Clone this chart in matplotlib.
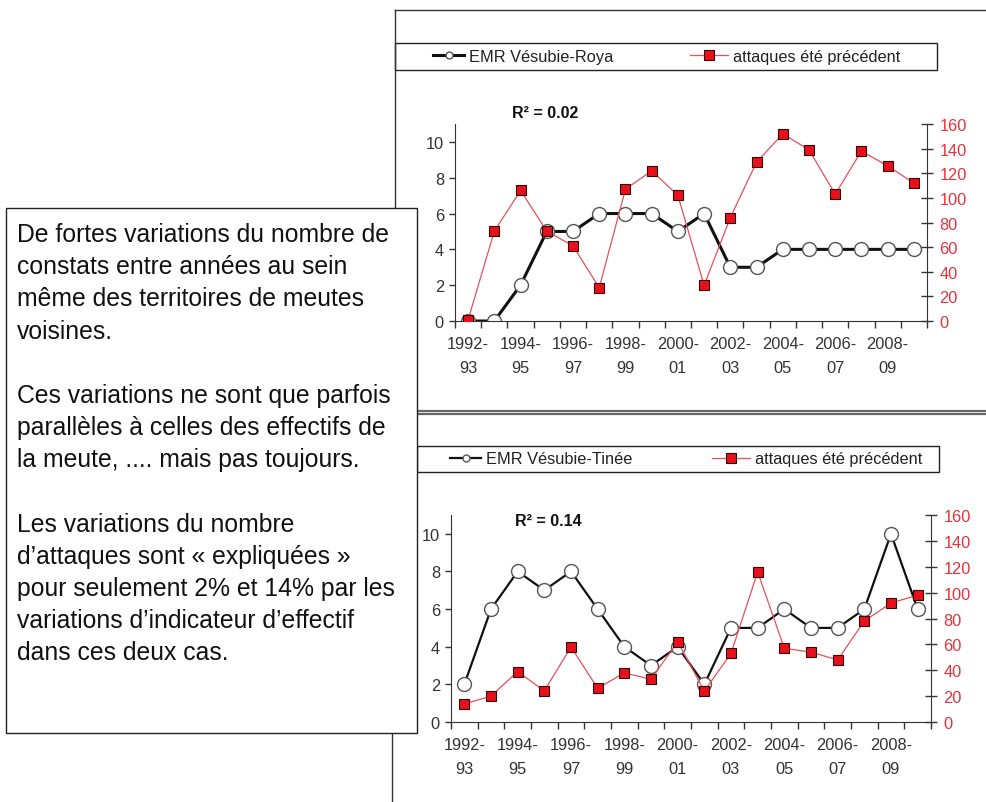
import matplotlib.pyplot as plt
import numpy as np
from matplotlib.lines import Line2D
from matplotlib.patches import Rectangle

plt.rcParams['font.family'] = ['Liberation Sans', 'DejaVu Sans']

# saisons 1992-93 ... 2009-10
n_seasons = 18
tick_labels = ['1992-\n93', '1994-\n95', '1996-\n97', '1998-\n99', '2000-\n01',
               '2002-\n03', '2004-\n05', '2006-\n07', '2008-\n09']

roya_emr = [0, 0, 2, 5, 5, 6, 6, 6, 5, 6, 3, 3, 4, 4, 4, 4, 4, 4]
roya_att = [1, 73, 106, 73, 61, 27, 107, 122, 102, 29, 84, 129, 152, 139, 103, 138, 126, 112]
tinee_emr = [2, 6, 8, 7, 8, 6, 4, 3, 4, 2, 5, 5, 6, 5, 5, 6, 10, 6]
tinee_att = [14, 20, 39, 24, 58, 26, 38, 33, 62, 24, 53, 116, 57, 54, 48, 78, 92, 98]

texte = ("De fortes variations du nombre de\n"
         "constats entre années au sein\n"
         "même des territoires de meutes\n"
         "voisines.\n"
         "\n"
         "Ces variations ne sont que parfois\n"
         "parallèles à celles des effectifs de\n"
         "la meute, .... mais pas toujours.\n"
         "\n"
         "Les variations du nombre\n"
         "d’attaques sont « expliquées »\n"
         "pour seulement 2% et 14% par les\n"
         "variations d’indicateur d’effectif\n"
         "dans ces deux cas.")

W, H = 987, 803
fig = plt.figure(figsize=(W / 100, H / 100), dpi=100)


def fx(px):
    return px / W


def fy(py):
    return 1 - py / H


def hline(x0, x1, y, color='#333333', lw=1.0):
    fig.add_artist(Line2D([fx(x0), fx(x1)], [fy(y), fy(y)], color=color, lw=lw,
                          transform=fig.transFigure))


def vline(x, y0, y1, color='#333333', lw=1.0):
    fig.add_artist(Line2D([fx(x), fx(x)], [fy(y0), fy(y1)], color=color, lw=lw,
                          transform=fig.transFigure))


def panel(left, right, top, bottom, emr, att, r2, r2_xy, lw_black):
    ax = fig.add_axes([fx(left), fy(bottom), fx(right - left), (bottom - top) / H])
    x = np.arange(n_seasons)
    l1, = ax.plot(x, emr, color='#111111', lw=lw_black, marker='o', ms=10,
                  mfc='white', mec='#555555', mew=1.0)
    ax.set_xlim(-0.5, n_seasons - 0.5)
    ax.set_ylim(0, 11)
    ax.set_yticks(range(0, 11, 2))
    ax.set_xticks(range(0, n_seasons, 2))
    ax.set_xticklabels(tick_labels, linespacing=1.7)
    ax.set_xticks(np.arange(-0.5, n_seasons, 1), minor=True)
    ax.tick_params(axis='x', which='major', length=0, pad=11, labelsize=11.8, colors='#333333')
    ax.tick_params(axis='x', which='minor', length=5, width=1, color='#333333')
    ax.tick_params(axis='y', length=4, width=1, pad=4, labelsize=11.8,
                   labelcolor='#333333', color='#333333')
    for s in ['top', 'right']:
        ax.spines[s].set_visible(False)
    for s in ['left', 'bottom']:
        ax.spines[s].set_color('#333333')

    ax2 = ax.twinx()
    l2, = ax2.plot(x, att, color='#e8505a', lw=0.9, marker='s', ms=7,
                   mfc='#e8101a', mec='#330000', mew=0.8)
    ax2.set_ylim(0, 160)
    ax2.set_yticks(range(0, 161, 20))
    ax2.tick_params(axis='y', direction='inout', length=8, width=1, pad=5, labelsize=11.8,
                    labelcolor='#e8323c', color='#333333')
    for s in ['top', 'left', 'bottom']:
        ax2.spines[s].set_visible(False)
    ax2.spines['right'].set_color('#333333')

    fig.text(fx(r2_xy[0]), fy(r2_xy[1]), r2, fontsize=11.5, fontweight='bold',
             color='#111111', va='center', ha='left')
    return l1, l2


def legend(handle, label, x_px, y_px, hl, ms):
    fig.legend([handle], [label], loc='center left', bbox_to_anchor=(fx(x_px), fy(y_px)),
               frameon=False, fontsize=11.8, handlelength=hl, handletextpad=0.3,
               borderpad=0, borderaxespad=0, markerscale=ms, labelcolor='#222222')


# cadres des deux graphiques
hline(395, W, 11)
vline(395, 11, 410)
hline(395, W, 412, color='#666666', lw=1.6)
hline(395, W, 415, color='#666666', lw=1.6)
vline(392, 415, H)

# graphique du haut : Vésubie-Roya
fig.add_artist(Rectangle((fx(395), fy(71)), fx(937 - 395), (71 - 44) / H, fill=False,
                         ec='#222222', lw=1.0, transform=fig.transFigure))
h1, h2 = panel(455, 927, 125, 322, roya_emr, roya_att, 'R² = 0.02', (512, 114), 2.2)
legend(h1, 'EMR Vésubie-Roya', 433, 57.5, 1.9, 0.5)
legend(h2, 'attaques été précédent', 690, 57.5, 2.3, 1.0)

# graphique du bas : Vésubie-Tinée
fig.add_artist(Rectangle((fx(417), fy(473)), fx(939 - 417), (473 - 447) / H, fill=False,
                         ec='#222222', lw=1.0, transform=fig.transFigure))
h3, h4 = panel(451, 931, 516, 723, tinee_emr, tinee_att, 'R² = 0.14', (515, 521), 1.6)
legend(h3, 'EMR Vésubie-Tinée', 450, 460, 1.9, 0.5)
legend(h4, 'attaques été précédent', 712, 460, 2.3, 1.0)

# encadré de texte
fig.add_artist(Rectangle((fx(6), fy(734)), fx(417 - 6), (734 - 209) / H, fc='white',
                         ec='#222222', lw=1.0, transform=fig.transFigure, zorder=5))
fig.text(fx(17), fy(223), texte, fontsize=17.8, color='#111111', va='top', ha='left',
         linespacing=1.43, zorder=6)

fig.savefig('out.png', dpi=100)
